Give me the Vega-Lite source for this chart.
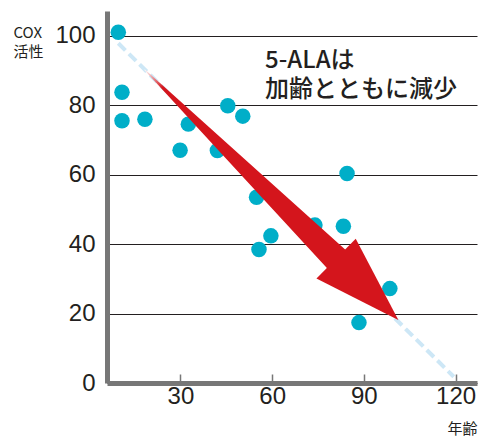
{
  "$schema": "https://vega.github.io/schema/vega-lite/v6.json",
  "width": 370,
  "height": 372,
  "autosize": {"type": "none"},
  "padding": {"left": 107, "top": 11, "right": 7, "bottom": 53},
  "config": {"view": {"stroke": null}, "font": "Noto Sans CJK JP"},
  "encoding": {
    "x": {
      "field": "age", "type": "quantitative",
      "scale": {"domain": [6, 127], "nice": false, "zero": false},
      "axis": {
        "values": [30, 60, 90, 120], "grid": false,
        "domainColor": "#777777", "domainWidth": 5,
        "tickColor": "#777777", "tickWidth": 1.5, "tickSize": -9,
        "labelPadding": 10, "labelFontSize": 24, "labelFont": "Liberation Sans",
        "labelColor": "#231f20", "labelFlush": false,
        "title": "年齢", "titleX": 370, "titleY": 50, "titleAlign": "right",
        "titleAnchor": "end", "titleBaseline": "alphabetic", "titleFontSize": 15,
        "titleFontWeight": "normal", "titleColor": "#231f20"
      }
    },
    "y": {
      "field": "cox", "type": "quantitative",
      "scale": {"domain": [0, 107.2], "nice": false, "zero": false},
      "axis": {
        "values": [0, 20, 40, 60, 80, 100], "grid": true,
        "gridColor": "#231f20", "gridWidth": 1, "ticks": false,
        "domainColor": "#777777", "domainWidth": 5,
        "labelPadding": 12, "labelFontSize": 24, "labelFont": "Liberation Sans",
        "labelColor": "#231f20", "labelFlush": false,
        "title": ["COX", "活性"], "titleAngle": 0, "titleAlign": "left",
        "titleBaseline": "alphabetic", "titleX": -94, "titleY": 26,
        "titleFontSize": 15, "titleFontWeight": "normal", "titleColor": "#231f20",
        "titleLineHeight": 19
      }
    }
  },
  "layer": [
    {
      "data": {"values": [{"age": 9.7, "cox": 97.9}, {"age": 119.4, "cox": 1.8}]},
      "mark": {"type": "line", "color": "#cde7f6", "strokeWidth": 4, "strokeDash": [10, 5]}
    },
    {
      "data": {"values": [
        {"age": 9.7, "cox": 101.1},
        {"age": 10.9, "cox": 83.8},
        {"age": 10.9, "cox": 75.6},
        {"age": 18.4, "cox": 76.0},
        {"age": 32.6, "cox": 74.6},
        {"age": 29.9, "cox": 67.1},
        {"age": 42.1, "cox": 67.0},
        {"age": 45.5, "cox": 79.9},
        {"age": 50.4, "cox": 76.9},
        {"age": 84.5, "cox": 60.4},
        {"age": 54.9, "cox": 53.5},
        {"age": 74.0, "cox": 45.5},
        {"age": 83.3, "cox": 45.2},
        {"age": 59.6, "cox": 42.4},
        {"age": 55.7, "cox": 38.5},
        {"age": 98.5, "cox": 27.2},
        {"age": 88.4, "cox": 17.4}
      ]},
      "mark": {"type": "circle", "size": 240, "color": "#00aec8", "opacity": 1}
    },
    {
      "data": {"values": [{"age": 18.4, "cox": 90.2, "t": 0}, {"age": 80.9, "cox": 35.8, "t": 1}]},
      "mark": {"type": "trail",
               "color": {"gradient": "linear", "x1": 0, "y1": 0, "x2": 1, "y2": 1,
                         "stops": [{"offset": 0, "color": "#ffffff"},
                                   {"offset": 0.09, "color": "#d4151c"},
                                   {"offset": 1, "color": "#d4151c"}]}},
      "encoding": {
        "size": {"field": "t", "type": "quantitative", "scale": {"domain": [0, 1], "range": [0, 26]}, "legend": null}
      }
    },
    {
      "data": {"values": [{"age": 91.1, "cox": 27.0}]},
      "mark": {"type": "point", "filled": true, "opacity": 1, "color": "#d4151c",
               "shape": "M0,-1L0.64,1L-0.64,1Z", "size": 7640, "angle": 134.6, "strokeWidth": 0}
    },
    {
      "data": {"values": [{"age": 57.7, "cox": 90.7, "label": "5-ALAは\n加齢とともに減少"}]},
      "mark": {"type": "text", "align": "left", "baseline": "alphabetic", "lineBreak": "\n",
               "lineHeight": 29, "fontSize": 24, "fontWeight": 500, "color": "#231f20",
               "font": "Noto Sans CJK JP"},
      "encoding": {"text": {"field": "label", "type": "nominal"}}
    }
  ]
}
